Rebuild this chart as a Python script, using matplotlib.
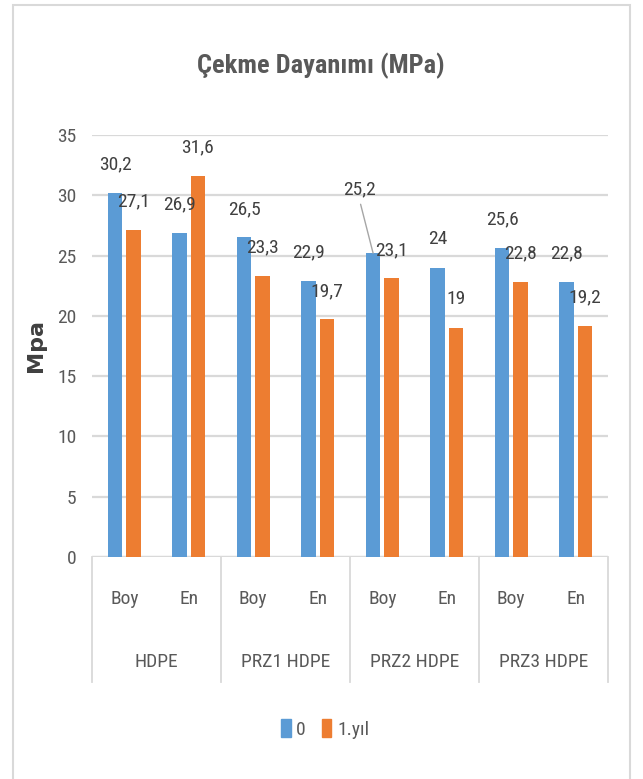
import matplotlib
matplotlib.use("Agg")
import matplotlib.pyplot as plt
from matplotlib.patches import Patch, Rectangle
from matplotlib import font_manager

# Tensile strength values for the two ageing states
subcats = ["Boy", "En", "Boy", "En", "Boy", "En", "Boy", "En"]
groups = ["HDPE", "PRZ1 HDPE", "PRZ2 HDPE", "PRZ3 HDPE"]
series_names = ["0", "1.yıl"]
vals_0 = [30.2, 26.9, 26.5, 22.9, 25.2, 24, 25.6, 22.8]
vals_1 = [27.1, 31.6, 23.3, 19.7, 23.1, 19, 22.8, 19.2]
yticks = [0, 5, 10, 15, 20, 25, 30, 35]

BLUE = "#5B9BD5"
ORANGE = "#ED7D31"
GRID = "#D9D9D9"
TXT = "#595959"

installed = {f.name for f in font_manager.fontManager.ttflist}
candidates = ["Roboto Condensed", "Open Sans Condensed", "Liberation Sans Narrow",
              "Noto Sans Condensed", "Roboto", "Liberation Sans"]
chosen = [c for c in candidates if c in installed][:1]
NARROW = chosen + ["DejaVu Sans"]
plt.rcParams["font.family"] = NARROW

fig = plt.figure(figsize=(6.43, 7.79), dpi=100)
fig.patches.append(Rectangle((13 / 643, -0.01), 617 / 643, 1 - 5 / 779 + 0.01,
                             transform=fig.transFigure, fill=False,
                             edgecolor=GRID, lw=1.5))

ax = fig.add_axes([92 / 643, 1 - 557 / 779, 516 / 643, 422 / 779])
x = list(range(len(subcats)))
w = 0.22
off = 0.142
b0 = ax.bar([i - off for i in x], vals_0, width=w, color=BLUE, zorder=3)
b1 = ax.bar([i + off for i in x], vals_1, width=w, color=ORANGE, zorder=3)

ax.set_xlim(-0.5, len(subcats) - 0.5)
ax.set_ylim(0, 35)
ax.set_yticks(yticks)
ax.set_yticklabels([str(t) for t in yticks])
ax.yaxis.grid(True, color=GRID, lw=1.6)
ax.set_axisbelow(True)
for s in ax.spines.values():
    s.set_visible(False)
ax.axhline(0, color=GRID, lw=1.6, zorder=2)
FS = 14
ax.tick_params(axis="both", length=0, labelsize=FS, labelcolor=TXT)
ax.tick_params(axis="y", pad=11)
ax.set_xticks(x)
ax.set_xticklabels(subcats)
ax.tick_params(axis="x", pad=24)


def fmt(v):
    return f"{v:g}".replace(".", ",")


for bars, vals in ((b0, vals_0), (b1, vals_1)):
    for bar, v in zip(bars, vals):
        cx = bar.get_x() + bar.get_width() / 2
        if bars is b0 and v == 25.2 and cx > 3.5:
            # label moved aside, joined to its bar by a leader line
            ax.annotate(fmt(v), xy=(cx, v), xytext=(-10, 42), textcoords="offset points",
                        ha="center", va="baseline", fontsize=FS, color="#404040",
                        arrowprops=dict(arrowstyle="-", color="#A6A6A6", lw=1,
                                        shrinkA=2, shrinkB=0,
                                        relpos=(0.5, 0)), zorder=5)
        else:
            ax.annotate(fmt(v), xy=(cx, v), xytext=(0, 17), textcoords="offset points",
                        ha="center", va="baseline", fontsize=FS, color="#404040", zorder=5)

# group separators and group names under the sub-category labels
trans = ax.get_xaxis_transform()
for sx in [-0.5, 1.5, 3.5, 5.5, 7.5]:
    ax.plot([sx, sx], [0, -125 / 422], color=GRID, lw=1.3, transform=trans, clip_on=False)
for gi, g in enumerate(groups):
    ax.text(2 * gi + 0.5, -105 / 422, g, transform=trans, ha="center", va="center",
            fontsize=FS, color=TXT)

ax.set_ylabel("Mpa", fontsize=16, fontweight="bold", color="#404040",
              family=["DejaVu Sans"])
ax.yaxis.set_label_coords(-(92 - 46) / 516, 0.5)

fig.text(321 / 643, 1 - 66 / 779, "Çekme Dayanımı (MPa)", ha="center", va="center",
         fontsize=19, fontweight="bold", color=TXT)

handles = [Patch(color=BLUE), Patch(color=ORANGE)]
fig.legend(handles, series_names, loc="center", bbox_to_anchor=(325 / 643, 1 - 729 / 779),
           ncol=2, frameon=False, fontsize=FS, labelcolor=TXT, handlelength=0.5,
           handleheight=1.0, handletextpad=0.3, columnspacing=0.8)

fig.savefig("out.png", dpi=100)
